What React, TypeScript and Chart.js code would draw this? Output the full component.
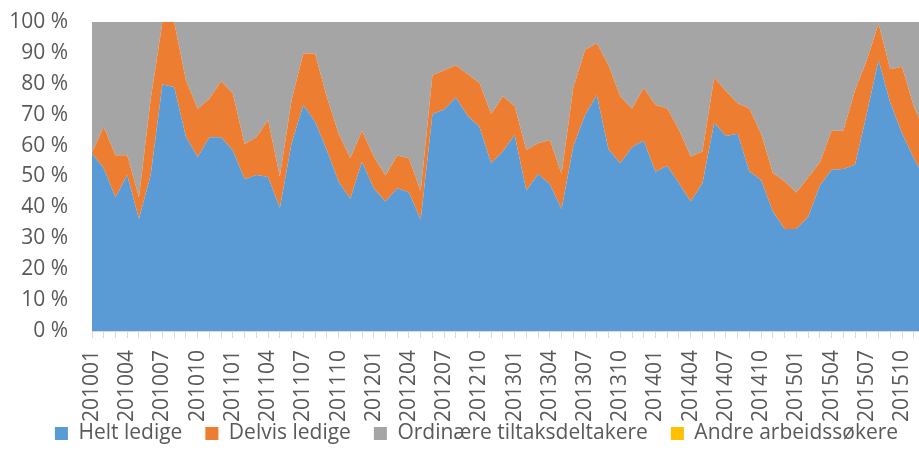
import React, { useEffect, useRef } from "react";
import { Chart, registerables } from "chart.js";

Chart.register(...registerables);

const months: string[] = [
  "201001","201002","201003","201004","201005","201006","201007","201008","201009","201010","201011","201012",
  "201101","201102","201103","201104","201105","201106","201107","201108","201109","201110","201111","201112",
  "201201","201202","201203","201204","201205","201206","201207","201208","201209","201210","201211","201212",
  "201301","201302","201303","201304","201305","201306","201307","201308","201309","201310","201311","201312",
  "201401","201402","201403","201404","201405","201406","201407","201408","201409","201410","201411","201412",
  "201501","201502","201503","201504","201505","201506","201507","201508","201509","201510","201511","201512",
];

const heltLedige: number[] = [
  57.5, 52.7, 43.2, 50.5, 36.3, 50.5, 79.8, 79.0, 62.9, 56.2, 62.7, 62.7,
  58.4, 49.1, 50.5, 49.8, 39.8, 60.8, 73.1, 67.7, 58.6, 48.4, 42.8, 54.8,
  46.2, 41.9, 46.2, 44.8, 36.0, 70.2, 71.7, 75.6, 69.6, 66.1, 54.3, 58.1,
  63.4, 45.5, 50.8, 47.5, 39.5, 59.7, 69.9, 76.3, 58.8, 54.3, 59.5, 61.6,
  51.5, 53.5, 47.8, 41.9, 47.8, 67.4, 63.1, 63.8, 51.6, 48.9, 38.7, 33.0,
  33.0, 36.9, 47.0, 52.2, 52.4, 53.8, 70.4, 87.6, 73.9, 64.0, 55.9, 49.0,
];

const delvisLedige: number[] = [
  0.3, 13.4, 13.7, 6.4, 7.0, 24.5, 20.2, 21.0, 18.3, 15.7, 12.5, 18.1,
  18.5, 11.4, 12.2, 18.5, 10.2, 13.9, 16.7, 22.1, 17.2, 15.6, 13.1, 10.0,
  10.3, 8.4, 10.6, 11.1, 9.2, 12.6, 12.7, 10.4, 13.5, 14.2, 15.9, 17.9,
  9.4, 13.1, 10.0, 14.3, 11.4, 19.1, 21.0, 16.9, 27.2, 21.7, 12.5, 17.1,
  21.6, 18.5, 17.3, 14.6, 10.3, 14.6, 14.6, 9.9, 20.4, 14.9, 12.4, 15.4,
  11.8, 12.8, 7.5, 12.6, 12.4, 24.2, 17.2, 11.9, 10.8, 21.5, 16.8, 15.0,
];

const ordinaereTiltak: number[] = [
  42.2, 33.9, 43.1, 43.1, 56.7, 25.0, 0.0, 0.0, 18.8, 28.1, 24.8, 19.2,
  23.1, 39.5, 37.3, 31.7, 50.0, 25.3, 10.2, 10.2, 24.2, 36.0, 44.1, 35.2,
  43.5, 49.7, 43.2, 44.1, 54.8, 17.2, 15.6, 14.0, 16.9, 19.7, 29.8, 24.0,
  27.2, 41.4, 39.2, 38.2, 49.1, 21.2, 9.1, 6.8, 14.0, 24.0, 28.0, 21.3,
  26.9, 28.0, 34.9, 43.5, 41.9, 18.0, 22.3, 26.3, 28.0, 36.2, 48.9, 51.6,
  55.2, 50.3, 45.5, 35.2, 35.2, 22.0, 12.4, 0.5, 15.3, 14.5, 27.3, 36.0,
];

const andreArbeidssokere: number[] = [
  0, 0, 0, 0, 0, 0, 0, 0, 0, 0, 0, 0,
  0, 0, 0, 0, 0, 0, 0, 0, 0, 0, 0, 0,
  0, 0, 0, 0, 0, 0, 0, 0, 0, 0, 0, 0,
  0, 0, 0, 0, 0, 0, 0, 0, 0, 0, 0, 0,
  0, 0, 0, 0, 0, 0, 0, 0, 0, 0, 0, 0,
  0, 0, 0, 0, 0, 0, 0, 0, 0, 0, 0, 0,
];

const yTicks: number[] = [0, 10, 20, 30, 40, 50, 60, 70, 80, 90, 100];

const seriesNames: string[] = [
  "Helt ledige",
  "Delvis ledige",
  "Ordinære tiltaksdeltakere",
  "Andre arbeidssøkere",
];
const seriesColors: string[] = ["#5B9BD5", "#ED7D31", "#A5A5A5", "#FFC000"];

const W = 953;
const H = 472;

export default function App() {
  const ref = useRef<HTMLCanvasElement | null>(null);

  useEffect(() => {
    if (!ref.current) return;
    const values = [heltLedige, delvisLedige, ordinaereTiltak, andreArbeidssokere];
    const font = { family: "'Open Sans', sans-serif", size: 21 };
    const chart = new Chart(ref.current, {
      type: "line",
      data: {
        labels: months,
        datasets: values.map((v, i) => ({
          label: seriesNames[i],
          data: v,
          backgroundColor: seriesColors[i],
          borderColor: seriesColors[i],
          borderWidth: 0,
          pointRadius: 0,
          tension: 0,
          fill: i === 0 ? "origin" : "-1",
        })),
      },
      options: {
        responsive: false,
        animation: false,
        layout: { padding: { left: 0, top: 22, right: 0, bottom: 18 } },
        plugins: {
          tooltip: { enabled: false },
          legend: {
            position: "bottom",
            labels: {
              color: "#595959",
              font,
              boxWidth: 13,
              boxHeight: 13,
              padding: 23,
            },
          },
        },
        scales: {
          x: {
            type: "category",
            offset: false,
            border: { display: true, color: "#D9D9D9" },
            grid: {
              display: true,
              drawOnChartArea: false,
              drawTicks: true,
              tickLength: 7,
              color: "#D9D9D9",
            },
            ticks: {
              autoSkip: false,
              maxRotation: 90,
              minRotation: 90,
              color: "#595959",
              font,
              padding: 12,
              callback: (_v: any, index: number) => (index % 3 === 0 ? months[index] : ""),
            },
            afterFit: (axis: any) => {
              axis.height = 69;
              axis.paddingLeft = 0;
              axis.paddingRight = 27.5;
              // let the rotated labels extend past the shortened axis box
              axis._computeLabelArea = () => undefined;
            },
          },
          y: {
            stacked: true,
            min: 0,
            max: 100,
            border: { display: false },
            grid: { color: "#D9D9D9", drawTicks: false },
            afterBuildTicks: (axis: any) => {
              axis.ticks = yTicks.map((v) => ({ value: v }));
            },
            ticks: {
              color: "#595959",
              font: { family: "'Open Sans', sans-serif", size: 21 },
              padding: 24,
              callback: (v: any) => v + " %",
            },
            afterFit: (axis: any) => {
              axis.width = 92;
              axis.paddingTop = 0;
              axis.paddingBottom = 0;
            },
          },
        },
      },
    });
    return () => chart.destroy();
  }, []);

  return (
    <div style={{ position: "fixed", left: 0, top: 0, width: W, height: H, background: "#fff" }}>
      <canvas ref={ref} width={W} height={H} style={{ display: "block" }} />
    </div>
  );
}
